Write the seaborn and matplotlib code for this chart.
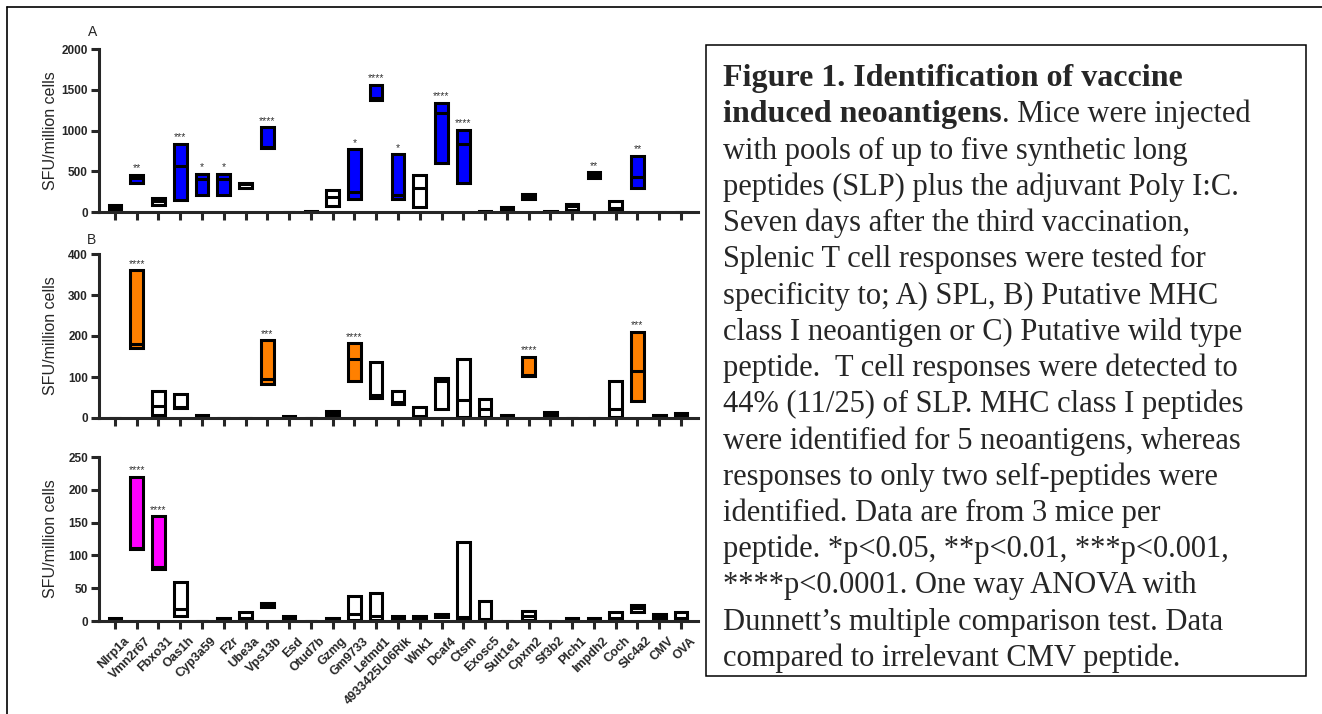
import matplotlib
matplotlib.use("Agg")
import matplotlib.pyplot as plt
import matplotlib.transforms as mtransforms
import seaborn as sns
import numpy as np

# ---- data -----------------------------------------------------------------
peptides = ["Nlrp1a", "Vmn2r67", "Fbxo31", "Oas1h", "Cyp3a59", "F2r", "Ube3a",
            "Vps13b", "Esd", "Otud7b", "Gzmg", "Gm9733", "Letmd1",
            "4933425L06Rik", "Wnk1", "Dcaf4", "Ctsm", "Exosc5", "Sult1e1",
            "Cpxm2", "Sf3b2", "Plch1", "Impdh2", "Coch", "Slc4a2", "CMV", "OVA"]

# A) SLP
a_min = [30, 350, 90, 150, 210, 210, 300, 780, 0, 0, 70, 160, 1370, 160, 60,
         600, 350, 0, 25, 160, 0, 30, 420, 30, 300, 0, 0]
a_med = [55, 420, 130, 560, 400, 400, 340, 800, 0, 4, 190, 250, 1400, 210, 300,
         1220, 840, 5, 45, 190, 5, 70, 460, 45, 430, 0, 0]
a_max = [80, 460, 170, 840, 470, 470, 360, 1040, 0, 10, 270, 770, 1560, 710, 460,
         1340, 1010, 12, 65, 215, 12, 100, 490, 140, 690, 0, 0]
a_sig = ["", "**", "", "***", "*", "*", "", "****", "", "", "", "*", "****", "*",
         "", "****", "****", "", "", "", "", "", "**", "", "**", "", ""]

# B) putative MHC class I neoantigen
b_min = [0, 170, 8, 25, 0, 0, 0, 82, 0, 0, 2, 90, 48, 35, 3, 21, 3, 3, 2, 103,
         3, 0, 0, 3, 42, 2, 3]
b_med = [0, 180, 30, 27, 4, 0, 0, 95, 2, 0, 10, 145, 57, 40, 6, 90, 43, 23, 5,
         105, 8, 0, 0, 23, 115, 5, 8]
b_max = [0, 360, 65, 58, 8, 0, 0, 190, 4, 0, 17, 183, 136, 67, 28, 98, 145, 46,
         8, 150, 14, 0, 0, 90, 210, 8, 13]
b_sig = ["", "****", "", "", "", "", "", "***", "", "", "", "****", "", "", "",
         "", "", "", "", "****", "", "", "", "", "***", "", ""]

# C) putative wild type peptide
c_min = [1, 110, 80, 8, 0, 1, 2, 21, 2, 0, 1, 2, 2, 2, 2, 6, 2, 2, 0, 2, 0, 1,
         1, 2, 14, 3, 2]
c_med = [2, 112, 82, 18, 0, 2, 5, 25, 5, 0, 2, 10, 8, 5, 5, 8, 6, 3, 0, 7, 0, 2,
         2, 5, 20, 8, 5]
c_max = [4, 220, 160, 60, 0, 4, 14, 28, 7, 0, 4, 38, 43, 8, 8, 11, 121, 31, 0,
         16, 0, 4, 4, 14, 24, 11, 14]
c_sig = ["", "****", "****", "", "", "", "", "", "", "", "", "", "", "", "", "",
         "", "", "", "", "", "", "", "", "", "", ""]

caption = [
    "with pools of up to five synthetic long",
    "peptides (SLP) plus the adjuvant Poly I:C.",
    "Seven days after the third vaccination,",
    "Splenic T cell responses were tested for",
    "specificity to; A) SPL, B) Putative MHC",
    "class I neoantigen or C) Putative wild type",
    "peptide.  T cell responses were detected to",
    "44% (11/25) of SLP. MHC class I peptides",
    "were identified for 5 neoantigens, whereas",
    "responses to only two self-peptides were",
    "identified. Data are from 3 mice per",
    "peptide. *p<0.05, **p<0.01, ***p<0.001,",
    "****p<0.0001. One way ANOVA with",
    "Dunnett\u2019s multiple comparison test. Data",
    "compared to irrelevant CMV peptide.",
]

sns.set_style("ticks")
plt.rcParams["font.family"] = ["Liberation Sans", "DejaVu Sans"]

W, H = 1322, 714
fig = plt.figure(figsize=(W / 100, H / 100), dpi=100)


def px_axes(left, top, right, bottom):
    return fig.add_axes([left / W, 1 - bottom / H, (right - left) / W, (bottom - top) / H])


panels = [
    (a_min, a_med, a_max, a_sig, "#0000FF", 2000, 500, (49, 212)),
    (b_min, b_med, b_max, b_sig, "#FF8000", 400, 100, (254, 418)),
    (c_min, c_med, c_max, c_sig, "#FF00FF", 250, 50, (457, 621)),
]

bw = 0.58
for k, (lo, md, hi, sig, col, ymax, step, (top, bot)) in enumerate(panels):
    ax = px_axes(99, top, 698, bot)
    lo, md, hi = np.array(lo), np.array(md), np.array(hi)
    sns.barplot(x=peptides, y=hi - lo, bottom=lo, order=peptides, width=bw,
                color="white", edgecolor="black", linewidth=2.2,
                errorbar=None, ax=ax)
    for i, p in enumerate(ax.patches):
        p.set_facecolor(col if sig[i] else "white")
    xs = np.arange(len(peptides))
    keep = hi > lo
    ax.hlines(md[keep], xs[keep] - bw / 2, xs[keep] + bw / 2, color="black", lw=2.2)
    for i, s in enumerate(sig):
        if s:
            ax.annotate(s, (i, hi[i]), xytext=(0, 1), textcoords="offset points",
                        ha="center", va="bottom", fontsize=7.5, color="#333333")
    ax.set_xlim(-0.73, len(peptides) - 0.22)
    ax.set_ylim(0, ymax)
    ax.set_yticks(np.arange(0, ymax + 1, step))
    ax.set_xlabel("")
    ax.set_ylabel("SFU/million cells", fontsize=11.5)
    ax.yaxis.set_label_coords(-0.068, 0.5)
    sns.despine(ax=ax)
    for s in ["left", "bottom"]:
        ax.spines[s].set_linewidth(2.2)
    ax.tick_params(axis="both", direction="out", length=6, width=2.2, pad=2)
    for t in ax.get_yticklabels():
        t.set_fontweight("bold")
        t.set_fontsize(8.5)
    if k < 2:
        ax.tick_params(axis="x", labelbottom=False)
    else:
        ax.set_xticks(xs)
        ax.set_xticklabels(peptides, rotation=45, ha="right", va="top",
                           rotation_mode="anchor", fontsize=9, fontweight="bold")
        off = mtransforms.ScaledTranslation(6 / 72, -2 / 72, fig.dpi_scale_trans)
        for t in ax.get_xticklabels():
            t.set_transform(t.get_transform() + off)

fig.text(93 / W, 1 - 32 / H, "A", fontsize=10, ha="center", va="center")
fig.text(91 / W, 1 - 240 / H, "B", fontsize=10, ha="center", va="center")

# outer frame
fig.add_artist(plt.Line2D([7 / W, 7 / W], [0, 1 - 7 / H], color="black", lw=1.2))
fig.add_artist(plt.Line2D([7 / W, 1], [1 - 7 / H, 1 - 7 / H], color="black", lw=1.2))

# caption box
fig.add_artist(plt.Rectangle((706 / W, 1 - 676 / H), 600 / W, 631 / H,
                             transform=fig.transFigure, fill=False,
                             edgecolor="black", lw=1.1))
serif = ["Liberation Serif", "DejaVu Serif"]
fs = 22
fs_bold = 23
x0 = 723
base0 = 86
dy = 36.25
fig.text(x0 / W, 1 - base0 / H, "Figure 1. Identification of vaccine",
         family=serif, fontsize=fs_bold, fontweight="bold", va="baseline")
t2 = fig.text(x0 / W, 1 - (base0 + dy) / H, "induced neoantigens",
              family=serif, fontsize=fs_bold, fontweight="bold", va="baseline")
fig.canvas.draw()
bb = t2.get_window_extent(fig.canvas.get_renderer())
fig.text(bb.x1 / W, 1 - (base0 + dy) / H, ". Mice were injected",
         family=serif, fontsize=fs, va="baseline")
for j, line in enumerate(caption):
    fig.text(x0 / W, 1 - (base0 + dy * (j + 2)) / H, line,
             family=serif, fontsize=fs, va="baseline")

fig.savefig("out.png", dpi=100)
